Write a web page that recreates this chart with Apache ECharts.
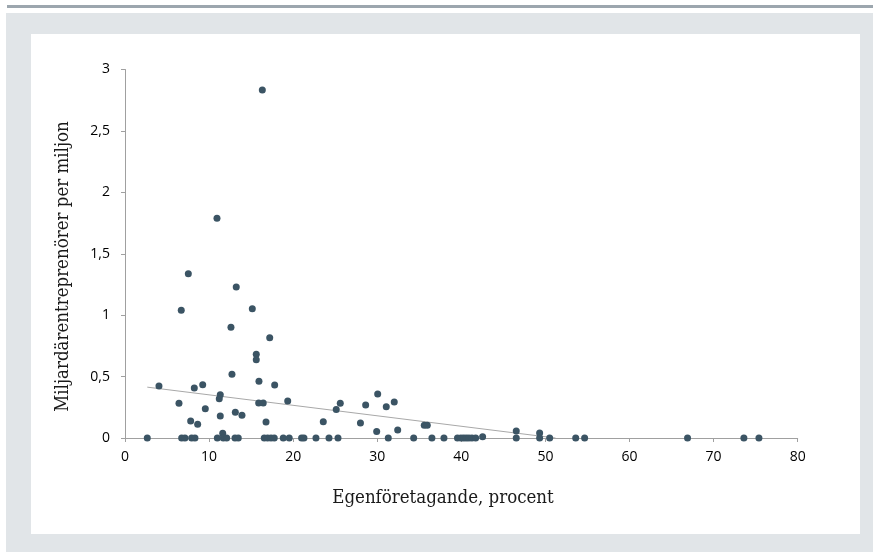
<!DOCTYPE html>
<html>
<head>
<meta charset="utf-8">
<script src="https://cdn.jsdelivr.net/npm/echarts@6/dist/echarts.min.js"></script>
<style>
html,body{margin:0;padding:0;width:873px;height:552px;background:#ffffff;overflow:hidden;}
#topbar{position:absolute;left:7px;top:5px;width:866px;height:3px;background:#9ca6ae;}
#bg{position:absolute;left:6px;top:13px;width:867px;height:539px;background:#e1e5e8;}
#chart{position:absolute;left:31px;top:34px;width:829px;height:500px;background:#ffffff;}
</style>
</head>
<body>
<div id="topbar"></div>
<div id="bg"></div>
<div id="chart"></div>
<script>
// Egenföretagande (%) and miljardärentreprenörer per miljon
const xValues = [
  16.33, 10.94, 4.04, 6.42, 6.69, 7.53, 7.81, 8.24, 8.64, 9.24, 9.55,
  11.21, 11.33, 11.33, 11.62, 12.6, 12.72, 13.23, 13.12, 13.91, 15.14,
  15.61, 15.61, 15.93, 15.9, 16.44, 16.77, 17.21, 17.8, 19.35, 23.58,
  25.12, 25.6, 28.0, 28.62, 30.05, 29.93, 31.07, 32.02, 32.43, 35.59,
  35.95, 42.53, 46.53, 49.31,
  2.65, 6.74, 7.13, 7.93, 8.32, 10.98, 11.69, 12.09, 13.08, 13.47,
  16.56, 16.96, 17.36, 17.75, 18.82, 19.53, 21.0, 21.28, 22.71, 24.26,
  25.33, 31.31, 34.33, 36.5, 37.93, 39.54, 39.95, 40.27, 40.58, 40.9,
  41.26, 41.7, 46.53, 49.31, 50.5, 53.6, 54.66, 66.9, 73.6, 75.39
];
const yValues = [
  2.834, 1.789, 0.423, 0.283, 1.04, 1.338, 0.138, 0.407, 0.112, 0.434, 0.239,
  0.32, 0.353, 0.179, 0.038, 0.901, 0.519, 1.23, 0.209, 0.185, 1.053,
  0.681, 0.638, 0.461, 0.285, 0.285, 0.13, 0.817, 0.432, 0.301, 0.133,
  0.232, 0.283, 0.122, 0.269, 0.358, 0.053, 0.255, 0.293, 0.065, 0.103,
  0.103, 0.011, 0.057, 0.041,
  0, 0, 0, 0, 0, 0, 0, 0, 0, 0,
  0, 0, 0, 0, 0, 0, 0, 0, 0, 0,
  0, 0, 0, 0, 0, 0, 0, 0, 0, 0,
  0, 0, 0, 0, 0, 0, 0, 0, 0, 0
];
const trendX = [2.65, 51.2];
const trendY = [0.414, 0];
const xTicks = [0, 10, 20, 30, 40, 50, 60, 70, 80];
const yTicks = [0, 0.5, 1, 1.5, 2, 2.5, 3];
const xTitle = 'Egenföretagande, procent';
const yTitle = 'Miljardärentreprenörer per miljon';

const points = xValues.map((x, i) => [x, yValues[i]]);
const trend = trendX.map((x, i) => [x, trendY[i]]);

const tickFont = '"Open Sans", sans-serif';
const titleFont = '"DejaVu Serif Condensed", "DejaVu Serif", serif';

const chart = echarts.init(document.getElementById('chart'), null, {renderer: 'canvas'});
chart.setOption({
  animation: false,
  grid: {left: 94, top: 35.5, width: 672.7, height: 368.5, containLabel: false},
  xAxis: {
    type: 'value',
    min: xTicks[0], max: xTicks[xTicks.length - 1], interval: 10,
    axisLine: {show: true, lineStyle: {color: '#a0a0a0', width: 1}},
    axisTick: {show: true, length: 4, lineStyle: {color: '#a0a0a0'}},
    splitLine: {show: false},
    axisLabel: {color: '#000', fontFamily: tickFont, fontSize: 14, margin: 12}
  },
  yAxis: {
    type: 'value',
    min: yTicks[0], max: yTicks[yTicks.length - 1], interval: 0.5,
    axisLine: {show: true, lineStyle: {color: '#a0a0a0', width: 1}},
    axisTick: {show: true, length: 4, lineStyle: {color: '#a0a0a0'}},
    splitLine: {show: false},
    axisLabel: {color: '#000', fontFamily: tickFont, fontSize: 14, margin: 15,
      formatter: v => String(v).replace('.', ',')}
  },
  graphic: [{
    type: 'text',
    x: 32, y: 232.5,
    rotation: Math.PI / 2,
    style: {text: yTitle, fill: '#1a1a1a', font: '18.5px ' + titleFont, align: 'center', verticalAlign: 'middle'}
  }, {
    type: 'text',
    x: 412, y: 464,
    style: {text: xTitle, fill: '#1a1a1a', font: '18.5px ' + titleFont, align: 'center', verticalAlign: 'middle'}
  }],
  series: [
    {
      type: 'line', data: trend, symbol: 'none', silent: true,
      lineStyle: {color: '#a8a8a8', width: 1}, z: 1
    },
    {
      type: 'scatter', data: points, symbolSize: 7,
      itemStyle: {color: '#3b5464', opacity: 1}, z: 3
    }
  ]
});
</script>
</body>
</html>
